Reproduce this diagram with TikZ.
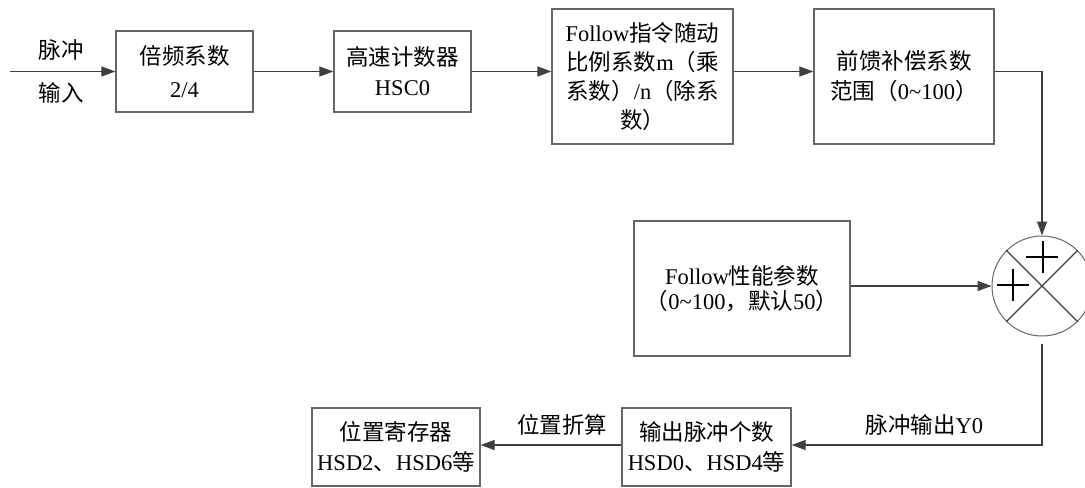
\documentclass[tikz,border=0pt]{standalone}
\usepackage{fontspec}
\setmainfont{Liberation Serif}
\newfontfamily\cjk{Noto Sans CJK SC}
\newcommand{\zh}[1]{{\cjk #1}}
\usetikzlibrary{arrows.meta}
\tikzset{
    blk/.style={draw=black!60, line width=0.6pt, align=center, inner sep=0pt,
        font=\fontsize{11.25}{15}\selectfont},
    lbl/.style={font=\fontsize{11.25}{15}\selectfont},
}

\begin{document}
\begin{tikzpicture}[x=0.5pt, y=-0.5pt, >={Triangle[length=7pt,width=5pt]}, line width=0.55pt, draw=black!75]
        \useasboundingbox (0,0) rectangle (1085,487);
        \node[blk, minimum width=68.5pt, minimum height=40.5pt, font=\fontsize{11.25}{16.5}\selectfont] (mul) at (184.5,71.5) {\zh{倍频系数}\\2/4};
        \node[blk, minimum width=68.5pt, minimum height=40.5pt] (hsc) at (402.5,71.5) {\zh{高速计数器}\\HSC0};
        \node[blk, minimum width=90.5pt, minimum height=67.5pt, font=\fontsize{11.25}{14.5}\selectfont] (ratio) at (642.5,76.5) {Follow\zh{指令随动}\\\zh{比例系数}m\zh{（乘}\\\zh{系数）}/n\zh{（除系}\\\zh{数）}};
        \node[blk, minimum width=90pt, minimum height=67.5pt] (ffw) at (904,76.5) {\zh{前馈补偿系数}\\\zh{范围（}0\textasciitilde100\zh{）}};
        \node[blk, minimum width=108pt, minimum height=67.5pt, font=\fontsize{11.25}{12.5}\selectfont] (perf) at (742,288.5) {Follow\zh{性能参数}\\\zh{（}0\textasciitilde100\zh{，默认}50\zh{）}};
        \node[draw=black!60, line width=0.5pt, circle, minimum size=50pt, inner sep=0pt] (sum) at (1042,286) {};
        \node[blk, minimum width=84.5pt, minimum height=39pt] (cnt) at (706.5,447) {\zh{输出脉冲个数}\\HSD0\zh{、}HSD4\zh{等}};
        \node[blk, minimum width=84pt, minimum height=39pt] (reg) at (396,447) {\zh{位置寄存器}\\HSD2\zh{、}HSD6\zh{等}};
        \coordinate (in) at (10,71.5);
        \coordinate (fb) at (1042,445);
        \node[lbl] (inA) at (61,50) {\zh{脉冲}};
        \node[lbl] (inB) at (61,93) {\zh{输入}};
        \draw (sum.north west) -- (sum.south east);
        \draw (sum.north east) -- (sum.south west);
        \draw[line width=1pt, black] ([shift={(-16,-29)}]sum.center) -- ([shift={(16,-29)}]sum.center)
            ([shift={(1,-45)}]sum.center) -- ([shift={(1,-13)}]sum.center);
        \draw[line width=1pt, black] ([shift={(-45,-1)}]sum.center) -- ([shift={(-13,-1)}]sum.center)
            ([shift={(-29,-17)}]sum.center) -- ([shift={(-29,15)}]sum.center);
        \draw[->] (in) -- (mul);
        \draw[->] (mul) -- (hsc);
        \draw[->] (hsc) -- (hsc -| ratio.west);
        \draw[->] (hsc -| ratio.east) -- (hsc -| ffw.west);
        \draw[->] (hsc -| ffw.east) -| (sum);
        \draw[->] (perf.east |- sum) -- (sum);
        \draw[->] ([yshift=-3.5pt]sum.south) -- (fb) -- (fb -| cnt.east) node[lbl, pos=0.47, above, yshift=1pt] {\zh{脉冲输出}Y0};
        \draw[->] (cnt.west |- fb) -- (fb -| reg.east) node[lbl, pos=0.42, above, yshift=1pt] {\zh{位置折算}};
\end{tikzpicture}
\end{document}
